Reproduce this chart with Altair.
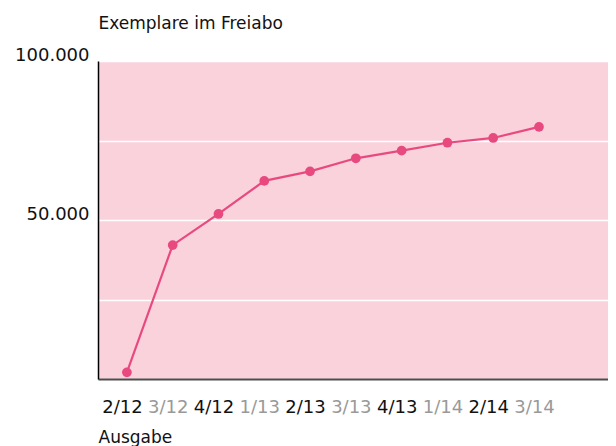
import altair as alt
import pandas as pd

issues = ["2/12", "3/12", "4/12", "1/13", "2/13", "3/13", "4/13", "1/14", "2/14", "3/14"]
copies = [2100, 42100, 51900, 62300, 65300, 69400, 71800, 74300, 75800, 79300]
dark_labels = ["2/12", "4/12", "2/13", "4/13", "2/14"]
y_ticks = [0, 25000, 50000, 75000, 100000]

df = pd.DataFrame({"Ausgabe": issues, "Exemplare": copies, "idx": list(range(len(issues)))})

FONT = "DejaVu Sans"
PINK = "#E84A80"
BG = "#F9D2DC"

issue_arr = "[" + ",".join("'%s'" % d for d in issues) + "]"
dark_arr = "[" + ",".join("'%s'" % d for d in dark_labels) + "]"

x_enc = alt.X(
    "idx:Q",
    scale=alt.Scale(domain=[-0.631, 10.507], nice=False, zero=False),
    axis=alt.Axis(
        title="Ausgabe",
        values=list(range(len(issues))),
        labelExpr="%s[datum.value]" % issue_arr,
        titleFont=FONT, titleFontSize=17, titleFontWeight="normal", titleColor="#111",
        titleAngle=0, titleAlign="left", titleBaseline="alphabetic",
        titleX=0, titleY=63,
        labelFont=FONT, labelFontSize=18, labelAngle=0,
        labelAlign="center", labelBaseline="alphabetic", labelPadding=33,
        labelOffset=-5, labelFlush=False, labelOverlap=False,
        labelColor={"condition": {"test": "indexof(%s, %s[datum.value]) >= 0" % (dark_arr, issue_arr), "value": "#111"}, "value": "#999999"},
        ticks=False, grid=False,
        domainColor="#4d4d4d", domainWidth=2,
    ),
)

y_enc = alt.Y(
    "Exemplare:Q",
    scale=alt.Scale(domain=[0, 100000], nice=False),
    axis=alt.Axis(
        title="Exemplare im Freiabo",
        titleFont=FONT, titleFontSize=17, titleFontWeight="normal", titleColor="#111",
        titleAngle=0, titleAlign="left", titleBaseline="alphabetic",
        titleX=0, titleY=-33,
        values=y_ticks,
        labelExpr="datum.value > 0 && datum.value % 50000 == 0 ? replace(format(datum.value, ','), ',', '.') : ''",
        labelFont=FONT, labelFontSize=18, labelColor="#111",
        labelBaseline="alphabetic", labelOffset=-1, labelPadding=9,
        labelFlush=False, labelOverlap=False,
        ticks=False,
        grid=True, gridColor="white", gridWidth=1.5,
        domainColor="black", domainWidth=1.5,
    ),
)

base = alt.Chart(df).encode(x=x_enc, y=y_enc)
line = base.mark_line(color=PINK, strokeWidth=2.2)
points = base.mark_circle(color=PINK, size=95, opacity=1)

chart = (
    (line + points)
    .properties(
        width=510,
        height=318,
        autosize=alt.AutoSizeParams(type="none"),
        padding={"left": 90, "top": 53, "right": 0, "bottom": 67},
    )
    .configure_view(fill=BG, strokeWidth=0)
)

chart.save("out.html", embed_options={"renderer": "svg", "actions": False})
